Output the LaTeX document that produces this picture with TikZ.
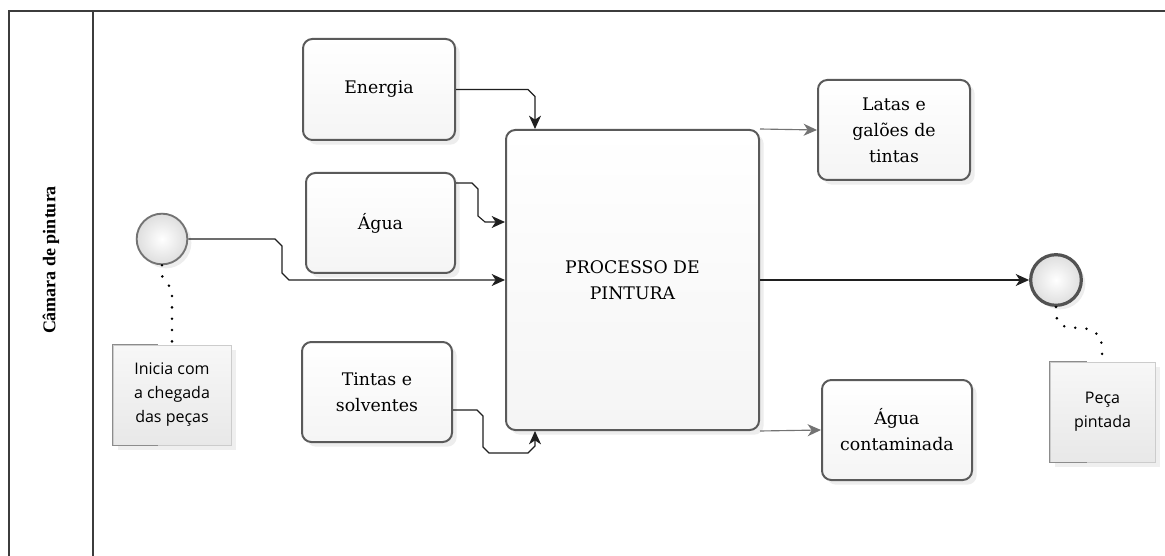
\documentclass[tikz,border=0pt]{standalone}
\usepackage{fontspec}
\setmainfont{DejaVu Serif}
\newfontfamily\annfont{Open Sans}
\newfontfamily\lanefont{Liberation Serif}
\usetikzlibrary{arrows.meta,shadows}
\definecolor{bord}{HTML}{5A5A5A}
\definecolor{poolc}{HTML}{3C3C3C}
\begin{document}
\begin{tikzpicture}[x=0.75pt,y=-0.75pt,
  task/.style={draw=bord, line width=1.5pt, rounded corners=7pt, top color=white, bottom color=black!4,
    drop shadow={opacity=0.14, shadow xshift=3.5pt, shadow yshift=-3.5pt},
    align=center, inner sep=1pt, font=\fontsize{13}{19.5}\selectfont},
  ann/.style={draw=black!20, line width=0.6pt, top color=black!3, bottom color=black!9,
    drop shadow={opacity=0.12, shadow xshift=4pt, shadow yshift=-4pt},
    align=center, inner sep=1pt, minimum height=75pt, font=\annfont\fontsize{12}{18}\selectfont},
  evt/.style={circle, inner sep=0pt, minimum size=38pt, inner color=white, outer color=black!13,
    drop shadow={opacity=0.14, shadow xshift=3pt, shadow yshift=-3pt}},
  flow/.style={draw=black!88, line width=0.85pt, -{Stealth[length=10pt,width=9pt,inset=3pt]}},
  flowg/.style={flow, draw=black!55},
  assoc/.style={draw=black, line width=2.1pt, line cap=round, dash pattern=on 0pt off 8.5pt},
  pool/.style={draw=poolc, line width=1.4pt},
  bracket/.style={draw=black!45, line width=0.8pt}
]
\useasboundingbox (0,0) rectangle (1165,556);
\fill[white] (0,0) rectangle (1165,556);

% pool and lane
\draw[pool] (9,556) -- (9,11) -- (1165,11);
\draw[pool] (93,11) -- (93,556);
\node[rotate=90, font=\lanefont\bfseries\fontsize{13.5}{15}\selectfont] (lane) at (51,260) {Câmara de pintura};

% tasks
\node[task, minimum width=114pt, minimum height=75.75pt] (energia) at (379,89.5) {Energia};
\node[task, minimum width=111.75pt, minimum height=75pt] (agua) at (380.5,223) {Água};
\node[task, minimum width=112.5pt, minimum height=75pt] (tintas) at (377,392) {Tintas e\\solventes};
\node[task, minimum width=189.75pt, minimum height=225pt] (proc) at (632.5,280) {PROCESSO DE\\PINTURA};
\node[task, minimum width=114pt, minimum height=75pt] (latas) at (894,130) {Latas e\\galões de\\tintas};
\node[task, minimum width=112.5pt, minimum height=75pt] (aguac) at (897,430) {Água\\contaminada};

% events
\node[evt, draw=black!55, line width=1.4pt] (start) at (162,239) {};
\node[evt, draw=black!68, line width=2.4pt] (end) at (1056,280) {};

% annotations
\node[ann, minimum width=88.5pt] (ann1) at (172,395) {Inicia com\\a chegada\\das peças};
\node[ann, minimum width=78.75pt] (ann2) at (1102.5,412) {Peça\\pintada};
\draw[bracket] ([xshift=34pt]ann1.north west) -- (ann1.north west) -- (ann1.south west) -- ([xshift=34pt]ann1.south west);
\draw[bracket] ([xshift=28pt]ann2.north west) -- (ann2.north west) -- (ann2.south west) -- ([xshift=28pt]ann2.south west);

% associations
\coordinate (s1) at (162,276);
\coordinate (s2) at (172,290);
\draw[assoc] (start.south) -- (s1) -- (s2) -- (ann1.north);
\coordinate (e1) at (1057,320);
\coordinate (e2) at (1065,327);
\coordinate (e3) at (1090,329);
\coordinate (e4) at (1101,337);
\draw[assoc] (end.south) -- (e1) -- (e2) -- (e3) -- (e4) -- (ann2.north);

% sequence flows
\coordinate (st1) at (275,239);
\coordinate (st2) at (282,246);
\coordinate (st3) at (282,273);
\coordinate (st4) at (289,280);
\draw[flow] (start.east) -- (st1) -- (st2) -- (st3) -- (st4) -- (proc.west);

\coordinate (en1) at (528,89.5);
\coordinate (en2) at (535,96.5);
\draw[flow] (energia.east) -- (en1) -- (en2) -- (en2 |- proc.north);

\coordinate (ag1) at (472,183);
\coordinate (ag2) at (478,189);
\coordinate (ag3) at (478,216);
\coordinate (ag4) at (485,222);
\draw[flow] ([yshift=30pt]agua.east) -- (ag1) -- (ag2) -- (ag3) -- (ag4) -- (ag4 -| proc.west);

\coordinate (ti1) at (477,410);
\coordinate (ti2) at (483,416);
\coordinate (ti3) at (483,447);
\coordinate (ti4) at (489,453);
\coordinate (ti5) at (528,453);
\coordinate (ti6) at (535,446);
\draw[flow] ([yshift=-13.5pt]tintas.east) -- (ti1) -- (ti2) -- (ti3) -- (ti4) -- (ti5) -- (ti6) -- (ti6 |- proc.south);

\draw[flowg] (proc.north east) -- (latas.west);
\draw[flowg] (proc.south east) -- (aguac.west);
\draw[flow] (proc.east) -- (end.west);
\end{tikzpicture}
\end{document}
